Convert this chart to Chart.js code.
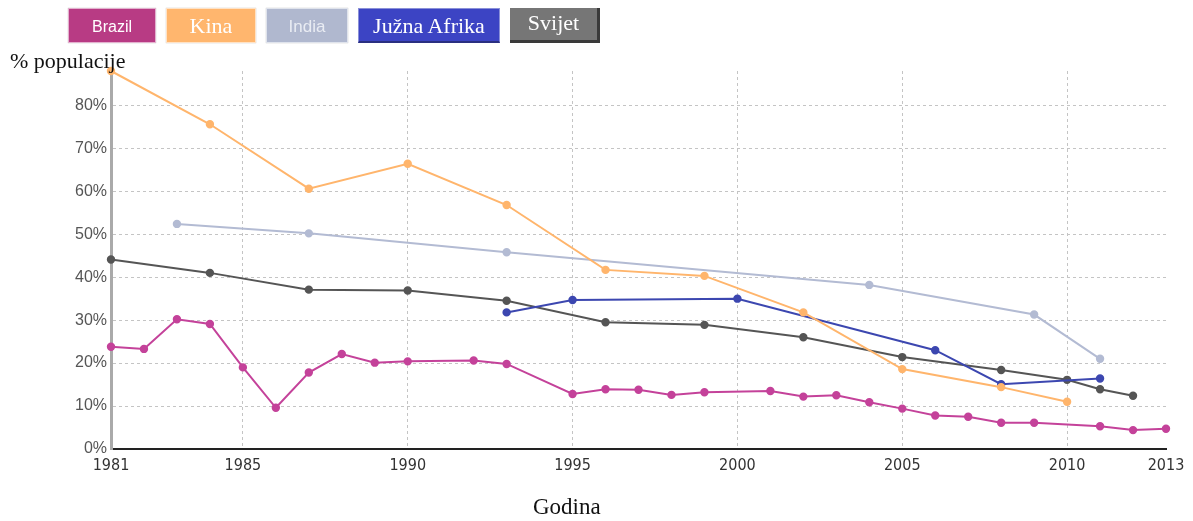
<!DOCTYPE html>
<html>
<head>
<meta charset="utf-8">
<script src="https://cdn.jsdelivr.net/npm/chart.js@4"></script>
<style>
  html, body { margin: 0; padding: 0; background: #fff; }
  #wrap { position: relative; width: 1193px; height: 521px; }
  #c { position: absolute; left: 0; top: 0; }
  .leg { position: absolute; top: 8px; height: 35px; text-align: center; color: #fff; box-sizing: border-box; }
  .lbl { position: absolute; font-family: "Liberation Serif", serif; color: #111; white-space: nowrap; }
</style>
</head>
<body>
<div id="wrap">
  <canvas id="c" width="1193" height="521"></canvas>
  <div id="legend"></div>
  <div class="lbl" style="left:10px;top:48px;font-size:22px;">% populacije</div>
  <div class="lbl" style="left:533px;top:494px;font-size:23px;">Godina</div>
</div>
<script>
  "use strict";

  var SERIES = ["Brazil", "Kina", "India", "Južna Afrika", "Svijet"];

  var brazilYears = [1981, 1982, 1983, 1984, 1985, 1986, 1987, 1988, 1989, 1990, 1992, 1993, 1995, 1996, 1997, 1998, 1999, 2001, 2002, 2003, 2004, 2005, 2006, 2007, 2008, 2009, 2011, 2012, 2013];
  var brazilVals = [23.8, 23.3, 30.2, 29.1, 19.0, 9.6, 17.8, 22.1, 20.1, 20.4, 20.6, 19.8, 12.8, 13.9, 13.8, 12.6, 13.2, 13.5, 12.2, 12.5, 10.9, 9.4, 7.8, 7.5, 6.1, 6.1, 5.3, 4.4, 4.7];

  var kinaYears = [1981, 1984, 1987, 1990, 1993, 1996, 1999, 2002, 2005, 2008, 2010];
  var kinaVals = [88.0, 75.6, 60.6, 66.4, 56.8, 41.7, 40.3, 31.8, 18.6, 14.4, 11.0];

  var indiaYears = [1983, 1987, 1993, 2004, 2009, 2011];
  var indiaVals = [52.4, 50.2, 45.8, 38.2, 31.3, 21.0];

  var afrikaYears = [1993, 1995, 2000, 2006, 2008, 2011];
  var afrikaVals = [31.8, 34.7, 35.0, 23.0, 15.1, 16.4];

  var svijetYears = [1981, 1984, 1987, 1990, 1993, 1996, 1999, 2002, 2005, 2008, 2010, 2011, 2012];
  var svijetVals = [44.1, 41.0, 37.1, 36.9, 34.5, 29.5, 28.9, 26.0, 21.4, 18.4, 16.1, 13.9, 12.4];

  var xTicks = [1981, 1985, 1990, 1995, 2000, 2005, 2010, 2013];
  var yTicks = [0, 10, 20, 30, 40, 50, 60, 70, 80];

  var lineColors = ["#c4429a", "#ffb56c", "#b3bbd3", "#3c47b0", "#555555"];
  var boxColors = ["#b83b84", "#ffb66e", "#b0b8cf", "#3c44c4", "#767676"];
  var legendBoxes = [
    { left: 68, width: 88, font: "16px 'Liberation Sans', Arial, sans-serif", lh: 35 },
    { left: 166, width: 90, font: "22px 'Liberation Serif', serif", lh: 33 },
    { left: 266, width: 82, font: "17px 'Liberation Sans', Arial, sans-serif", lh: 35, color: "#e9ecf3" },
    { left: 358, width: 142, font: "22px 'Liberation Serif', serif", lh: 34 },
    { left: 510, width: 90, font: "22px 'Liberation Serif', serif", lh: 30 }
  ];

  function pts(xs, ys) {
    return xs.map(function (x, i) { return { x: x, y: ys[i] }; });
  }

  var data = [
    pts(brazilYears, brazilVals),
    pts(kinaYears, kinaVals),
    pts(indiaYears, indiaVals),
    pts(afrikaYears, afrikaVals),
    pts(svijetYears, svijetVals)
  ];

  var datasets = SERIES.map(function (name, i) {
    return {
      label: name,
      data: data[i],
      borderColor: lineColors[i],
      backgroundColor: lineColors[i],
      pointBackgroundColor: lineColors[i],
      pointBorderColor: lineColors[i],
      borderWidth: 2,
      pointRadius: 3.2,
      tension: 0,
      clip: false
    };
  });

  // legend as html boxes
  var leg = document.getElementById("legend");
  SERIES.forEach(function (name, i) {
    var b = legendBoxes[i];
    var d = document.createElement("div");
    d.className = "leg";
    d.textContent = name;
    d.style.left = b.left + "px";
    d.style.width = b.width + "px";
    d.style.background = boxColors[i];
    d.style.font = b.font;
    d.style.lineHeight = b.lh + "px";
    if (b.color) d.style.color = b.color;
    if (i === 4) { d.style.borderRight = "3px solid #3a3a3a"; d.style.borderBottom = "3px solid #3a3a3a"; }
    else if (i === 3) { d.style.border = "1px solid #8a90d8"; d.style.borderBottom = "2px solid #2a2f80"; }
    else { d.style.border = "1px solid rgba(255,255,255,0.6)"; d.style.boxShadow = "0 0 1px rgba(0,0,0,0.3)"; }
    leg.appendChild(d);
  });

  new Chart(document.getElementById("c"), {
    type: "line",
    data: { datasets: datasets },
    options: {
      responsive: false,
      animation: false,
      layout: { padding: { top: 71, right: 27, left: 0, bottom: 0 } },
      plugins: { legend: { display: false }, tooltip: { enabled: false } },
      scales: {
        x: {
          type: "linear",
          min: 1981,
          max: 2013,
          afterBuildTicks: function (axis) {
            axis.ticks = xTicks.map(function (v) { return { value: v }; });
          },
          afterFit: function (axis) { axis.height = 72; },
          ticks: {
            autoSkip: false,
            maxRotation: 0,
            padding: 7,
            color: "#333",
            font: { family: "'Liberation Sans Narrow', 'DejaVu Sans Condensed', Arial, sans-serif", size: 16 },
            callback: function (v) { return String(v); }
          },
          grid: {
            color: function (ctx) {
              var v = ctx.tick && ctx.tick.value;
              return (v === 1981 || v === 2013) ? "rgba(0,0,0,0)" : "#c4c4c4";
            },
            drawTicks: false
          },
          border: { display: true, color: "#222", width: 2, dash: [3, 3] }
        },
        y: {
          min: 0,
          max: 88,
          afterBuildTicks: function (axis) {
            axis.ticks = yTicks.map(function (v) { return { value: v }; });
          },
          afterFit: function (axis) { axis.width = 111; },
          ticks: {
            padding: 4,
            color: "#555",
            font: { family: "'Liberation Sans', Arial, sans-serif", size: 16 },
            callback: function (v) { return v + "%"; }
          },
          grid: {
            color: function (ctx) { return ctx.tick && ctx.tick.value === 0 ? "rgba(0,0,0,0)" : "#c4c4c4"; },
            drawTicks: false
          },
          border: { display: true, color: "#aaaaaa", width: 3, dash: [3, 3] }
        }
      }
    }
  });
</script>
</body>
</html>
